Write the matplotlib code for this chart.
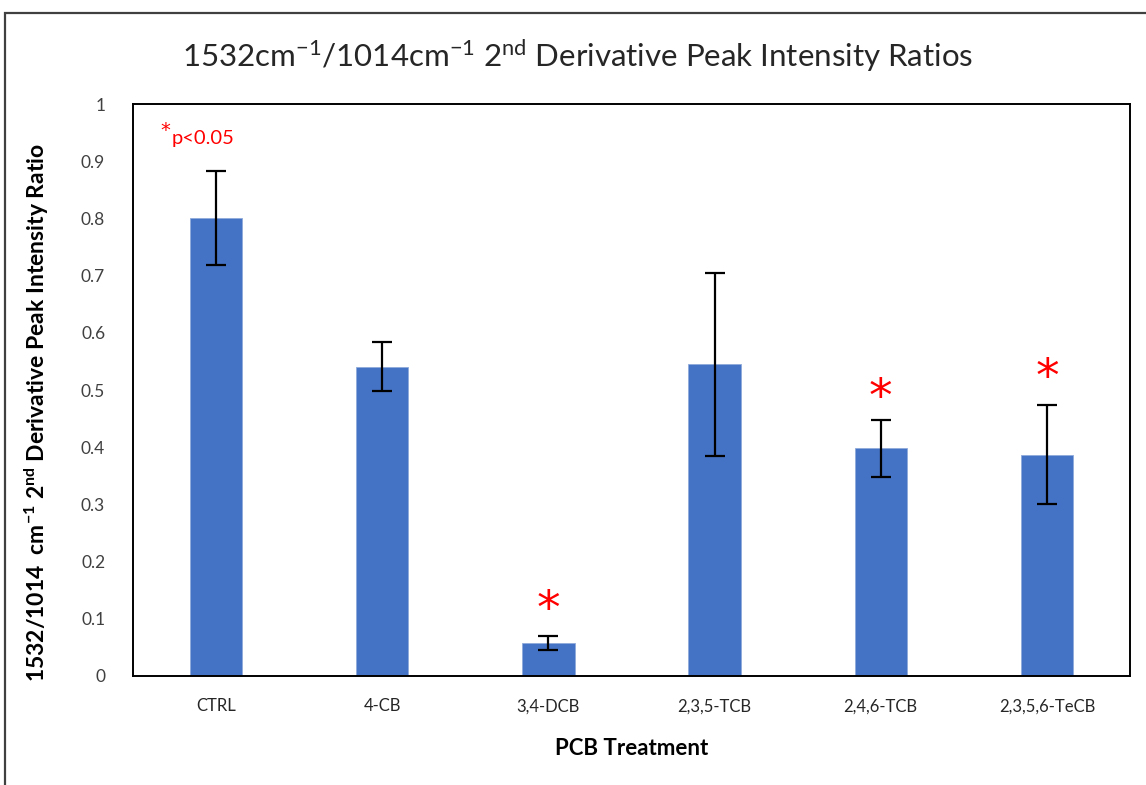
import matplotlib
matplotlib.use("Agg")
import matplotlib.pyplot as plt
from matplotlib.patches import Rectangle

categories = ["CTRL", "4-CB", "3,4-DCB", "2,3,5-TCB", "2,4,6-TCB", "2,3,5,6-TeCB"]
ratios = [0.80, 0.541, 0.058, 0.545, 0.398, 0.387]
errors = [0.082, 0.043, 0.012, 0.160, 0.050, 0.087]
significant = [False, False, True, False, True, True]
star_heights = [None, None, 0.115, None, 0.485, 0.52]
yticks = [0, 0.1, 0.2, 0.3, 0.4, 0.5, 0.6, 0.7, 0.8, 0.9, 1]
ytick_labels = ["0", "0.1", "0.2", "0.3", "0.4", "0.5", "0.6", "0.7", "0.8", "0.9", "1"]

plt.rcParams["font.family"] = ["Lato", "DejaVu Sans"]
plt.rcParams["mathtext.fontset"] = "custom"
plt.rcParams["mathtext.rm"] = "Lato"
plt.rcParams["mathtext.it"] = "Lato"
plt.rcParams["mathtext.bf"] = "Lato:bold"

W, H = 1146, 785
fig = plt.figure(figsize=(W / 100, H / 100), dpi=100)
fig.patch.set_facecolor("white")

# outer chart frame
fig.add_artist(Rectangle((5 / W, -0.05), 1.2, 1 - 13 / H + 0.05, transform=fig.transFigure,
                         fill=False, edgecolor="#404040", linewidth=1.6))

ax = fig.add_axes([133 / W, 1 - 676 / H, (1130 - 133) / W, (676 - 104) / H])
x = list(range(len(categories)))
ax.bar(x, ratios, width=0.315, color="#4472C4", edgecolor="#8EA9DB", linewidth=0.6, zorder=2)
ax.errorbar(x, ratios, yerr=errors, fmt="none", ecolor="black", elinewidth=1.6,
            capsize=7, capthick=1.6, zorder=3)

for xi, sig, h in zip(x, significant, star_heights):
    if sig:
        ax.text(xi, h, "*", color="red", ha="center", va="center", fontsize=34,
                family="DejaVu Sans", zorder=4)

ax.text(0.027, 0.953, "*", color="red", transform=ax.transAxes, ha="left", va="center",
        fontsize=14, family="DejaVu Sans")
ax.text(0.039, 0.94, "p<0.05", color="red", transform=ax.transAxes, ha="left", va="center",
        fontsize=14.5)

ax.set_xlim(-0.5, len(categories) - 0.5)
ax.set_ylim(0, 1)
ax.set_yticks(yticks)
ax.set_yticklabels(ytick_labels, fontsize=12.5, color="#404040")
ax.set_xticks(x)
ax.set_xticklabels(categories, fontsize=12, color="#262626")
ax.tick_params(axis="both", length=0)
ax.tick_params(axis="y", pad=20)
ax.tick_params(axis="x", pad=16)
for s in ax.spines.values():
    s.set_color("black")
    s.set_linewidth(1.4)

ax.set_xlabel("PCB Treatment", fontsize=16, fontweight="bold")
ax.xaxis.set_label_coords(0.5, -0.108)
ax.set_ylabel(r"1532/1014  cm$^{\mathbf{-1}}$ 2$^{\mathbf{nd}}$ Derivative Peak Intensity Ratio",
              fontsize=16.5, fontweight="bold")
ax.yaxis.set_label_coords(-0.082, 0.46)

fig.text(578 / W, 1 - 56 / H,
         r"1532cm$^{\mathrm{-1}}$/1014cm$^{\mathrm{-1}}$ 2$^{\mathrm{nd}}$ Derivative Peak Intensity Ratios",
         ha="center", va="center", fontsize=22.5, color="#262626")

fig.savefig("out.png", dpi=100)
